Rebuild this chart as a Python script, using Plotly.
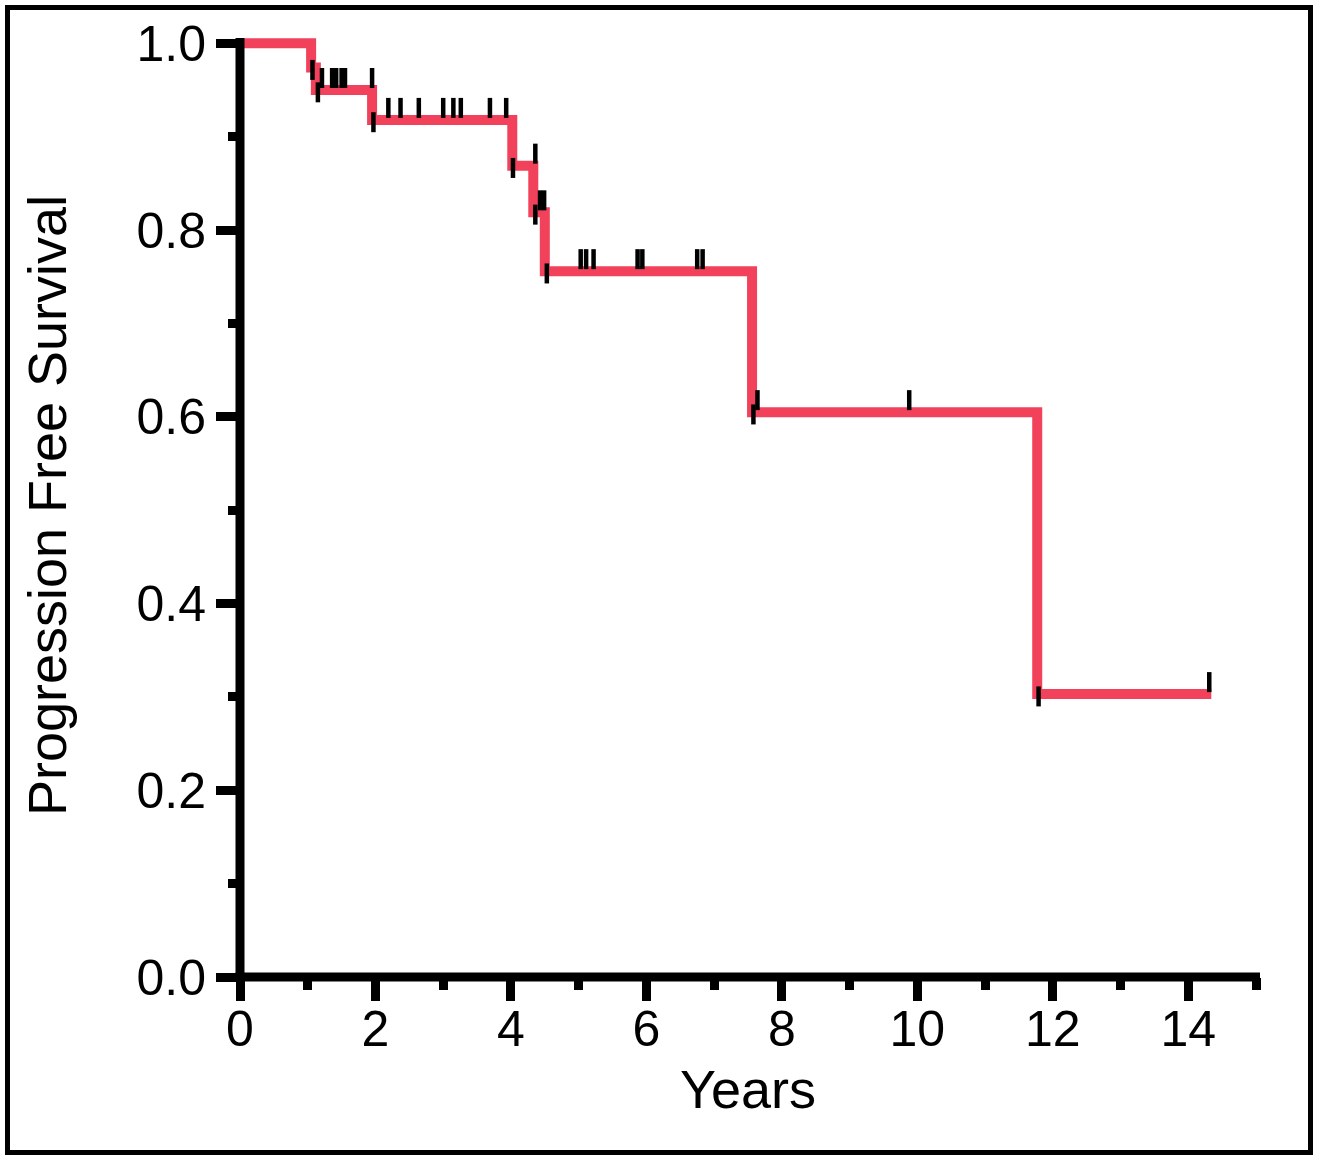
import plotly.graph_objects as go

# ---- data ----
step_times = [0.0, 1.05, 1.12, 1.95, 4.02, 4.33, 4.50, 7.56, 11.77]
step_surv = [1.0, 0.974, 0.950, 0.918, 0.869, 0.819, 0.756, 0.605, 0.303]
end_time = 14.34

censor_times = [1.07, 1.15, 1.21, 1.36, 1.42, 1.50, 1.55, 1.95,
                1.97, 2.19, 2.37, 2.64, 3.00, 3.15, 3.26, 3.69, 3.93,
                4.03, 4.36, 4.36, 4.43, 4.49,
                4.53, 5.03, 5.11, 5.22, 5.87, 5.94, 6.75, 6.83,
                7.58, 7.64, 9.88,
                11.79, 14.31]
censor_surv = [0.974, 0.950, 0.950, 0.950, 0.950, 0.950, 0.950, 0.950,
               0.918, 0.918, 0.918, 0.918, 0.918, 0.918, 0.918, 0.918, 0.918,
               0.869, 0.869, 0.819, 0.819, 0.819,
               0.756, 0.756, 0.756, 0.756, 0.756, 0.756, 0.756, 0.756,
               0.605, 0.605, 0.605,
               0.303, 0.303]
censor_pos = ["mid", "mid", "up", "up", "up", "up", "up", "up",
              "mid", "up", "up", "up", "up", "up", "up", "up", "up",
              "mid", "up", "mid", "up", "up",
              "mid", "up", "up", "up", "up", "up", "up", "up",
              "mid", "up", "up",
              "mid", "up"]

x_tick_vals = [0, 2, 4, 6, 8, 10, 12, 14]
y_tick_vals = [0.0, 0.2, 0.4, 0.6, 0.8, 1.0]
x_label = "Years"
y_label = "Progression Free Survival"

# ---- geometry / style ----
W, H = 1320, 1159
L, R, B = 240, 64, 182
Y_MAX = 1.01
plot_w = W - L - R
px_per_unit = 934.0
plot_h = round(px_per_unit * Y_MAX)
T = H - B - plot_h
px_per_unit = plot_h / Y_MAX
bottom_px = H - B

def paper_x(px):
    return (px - L) / plot_w

def paper_y(py):
    return (bottom_px - py) / plot_h

RED = "#F2415A"
FONT = "Liberation Sans, Arial, Helvetica, sans-serif"

# KM step curve
curve_x = list(step_times) + [end_time]
curve_y = list(step_surv) + [step_surv[-1]]

# censor marks as short vertical segments
half = 10.0 / px_per_unit
off = {"up": 12.0 / px_per_unit, "mid": -2.3 / px_per_unit}
cx, cy = [], []
for t, s, p in zip(censor_times, censor_surv, censor_pos):
    c = s + off[p]
    cx += [t, t, None]
    cy += [c - half, c + half, None]

fig = go.Figure()
fig.add_trace(go.Scatter(x=curve_x, y=curve_y, mode="lines",
                         line=dict(color=RED, width=10, shape="hv"),
                         hoverinfo="skip", showlegend=False))
fig.add_trace(go.Scatter(x=cx, y=cy, mode="lines",
                         line=dict(color="black", width=4.5),
                         hoverinfo="skip", showlegend=False))

shapes = [
    # y axis line
    dict(type="line", xref="paper", yref="paper",
         x0=0, x1=0, y0=paper_y(bottom_px + 4.5), y1=paper_y(38),
         line=dict(color="black", width=9)),
    # x axis line
    dict(type="line", xref="paper", yref="paper",
         x0=paper_x(L - 4.5), x1=paper_x(1260), y0=0, y1=0,
         line=dict(color="black", width=9)),
    # outer frame
    dict(type="rect", xref="paper", yref="paper",
         x0=paper_x(7.5), x1=paper_x(1310.5),
         y0=paper_y(1152.5), y1=paper_y(7.5),
         line=dict(color="black", width=5)),
]

fig.update_layout(
    width=W, height=H,
    margin=dict(l=L, r=R, t=T, b=B, pad=0),
    paper_bgcolor="white", plot_bgcolor="white",
    font=dict(family=FONT, size=50, color="black"),
    shapes=shapes,
    showlegend=False,
)
fig.update_xaxes(
    range=[0, 15], showgrid=False, zeroline=False, showline=False,
    tickmode="array", tickvals=x_tick_vals,
    ticktext=[str(v) for v in x_tick_vals],
    ticks="outside", ticklen=23, tickwidth=9, tickcolor="black",
    ticklabelstandoff=-15,
    minor=dict(ticks="outside", ticklen=11.5, tickwidth=9, tickcolor="black",
               dtick=1, tick0=1, showgrid=False),
    tickfont=dict(family=FONT, size=50, color="black"),
    title=dict(text=x_label, font=dict(family=FONT, size=54, color="black"),
               standoff=14),
)
fig.update_yaxes(
    range=[0, Y_MAX], showgrid=False, zeroline=False, showline=False,
    tickmode="array", tickvals=y_tick_vals,
    ticktext=[f"{v:.1f}" for v in y_tick_vals],
    ticks="outside", ticklen=23, tickwidth=9, tickcolor="black",
    minor=dict(ticks="outside", ticklen=11.5, tickwidth=9, tickcolor="black",
               dtick=0.2, tick0=0.1, showgrid=False),
    tickfont=dict(family=FONT, size=50, color="black"),
    title=dict(text=y_label, font=dict(family=FONT, size=54, color="black"),
               standoff=52),
)

fig.write_html("out.html", config={"displayModeBar": False},
               post_script="document.body.style.margin='0';")
